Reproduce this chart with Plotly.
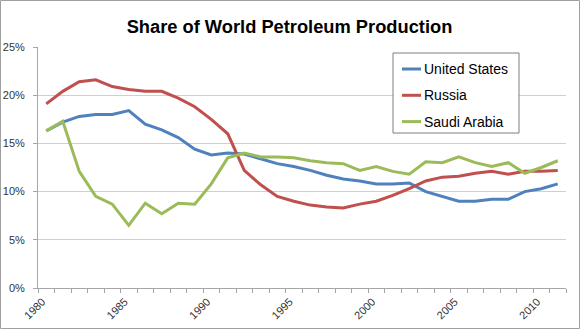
import plotly.graph_objects as go

years = list(range(1980, 2012))
united_states = [16.3, 17.2, 17.8, 18.0, 18.0, 18.4, 17.0, 16.4, 15.6, 14.4, 13.8, 14.0,
                 13.9, 13.4, 12.9, 12.6, 12.2, 11.7, 11.3, 11.1, 10.8, 10.8, 10.9, 10.0,
                 9.5, 9.0, 9.0, 9.2, 9.2, 10.0, 10.3, 10.8]
russia = [19.1, 20.4, 21.4, 21.6, 20.9, 20.6, 20.4, 20.4, 19.7, 18.8, 17.5, 16.0,
          12.2, 10.7, 9.5, 9.0, 8.6, 8.4, 8.3, 8.7, 9.0, 9.6, 10.3, 11.1,
          11.5, 11.6, 11.9, 12.1, 11.8, 12.1, 12.1, 12.2]
saudi_arabia = [16.3, 17.3, 12.1, 9.5, 8.7, 6.5, 8.8, 7.7, 8.8, 8.7, 10.8, 13.5,
                14.0, 13.6, 13.6, 13.5, 13.2, 13.0, 12.9, 12.2, 12.6, 12.1, 11.8, 13.1,
                13.0, 13.6, 13.0, 12.6, 13.0, 11.9, 12.5, 13.2]
series = [("United States", united_states, "#4F81BD"),
          ("Russia", russia, "#C0504D"),
          ("Saudi Arabia", saudi_arabia, "#9BBB59")]
tick_years = [1980, 1985, 1990, 1995, 2000, 2005, 2010]
y_ticks = [0, 5, 10, 15, 20, 25]

FONT = "Liberation Sans"
W, H = 580, 329
L, R, T, B = 38, 14, 47, 41
pw, ph = W - L - R, H - T - B


def px_x(p):
    return (p - L) / pw


def px_y(p):
    return (H - B - p) / ph


fig = go.Figure()
for name, vals, col in series:
    fig.add_trace(go.Scatter(x=years, y=vals, name=name, mode="lines",
                             line=dict(color=col, width=3), showlegend=False))

fig.update_layout(
    width=W, height=H,
    margin=dict(l=L, r=R, t=T, b=B, pad=0, autoexpand=False),
    paper_bgcolor="white", plot_bgcolor="white",
    font=dict(family=FONT, color="#333333", size=11),
    title=dict(text="Share of World Petroleum Production", x=289.5 / W, xanchor="center",
               y=1 - 27 / H, yanchor="middle",
               font=dict(family=FONT, size=18.3, color="#000000", weight="bold")),
    xaxis=dict(range=[1979.5, 2011.5], tickmode="array", tickvals=tick_years,
               ticktext=[str(y) for y in tick_years], tickangle=-45, ticks="",
               showgrid=False, showline=True, linecolor="#A6A6A6", linewidth=1,
               zeroline=False, tickfont=dict(size=11, color="#333333"),
               ticklabelstandoff=2, ticklabelshift=-4, automargin=False,
               minor=dict(tickmode="linear", tick0=1979.5, dtick=1, ticks="outside",
                          ticklen=4, tickcolor="#A6A6A6", showgrid=False)),
    yaxis=dict(range=[0, 25], tickmode="array", tickvals=y_ticks,
               ticktext=[f"{v}%" for v in y_ticks], ticks="outside", ticklen=4,
               tickcolor="#A6A6A6", showgrid=True, gridcolor="#CFCFCF", gridwidth=1,
               showline=True, linecolor="#A6A6A6", linewidth=1, zeroline=False,
               tickfont=dict(size=11, color="#333333"), ticklabelstandoff=6,
               automargin=False),
)
# outer chart border
fig.add_shape(type="rect", xref="paper", yref="paper",
              x0=px_x(0.5), x1=px_x(W - 0.5), y0=px_y(H - 0.5), y1=px_y(0.5),
              line=dict(color="#A0A0A0", width=1), layer="below")
# legend box
fig.add_shape(type="rect", xref="paper", yref="paper",
              x0=px_x(393), x1=px_x(519), y0=px_y(133), y1=px_y(53),
              line=dict(color="#7F7F7F", width=1), fillcolor="white", layer="above")
for k, (name, vals, col) in enumerate(series):
    yc = 69 + 26.3 * k
    fig.add_shape(type="line", xref="paper", yref="paper",
                  x0=px_x(402), x1=px_x(421), y0=px_y(yc), y1=px_y(yc),
                  line=dict(color=col, width=3), layer="above")
    fig.add_annotation(text=name, xref="paper", yref="paper", x=px_x(422), y=px_y(yc),
                       xanchor="left", yanchor="middle", showarrow=False,
                       font=dict(family=FONT, size=14, color="#000000"))
fig.write_html("out.html")
